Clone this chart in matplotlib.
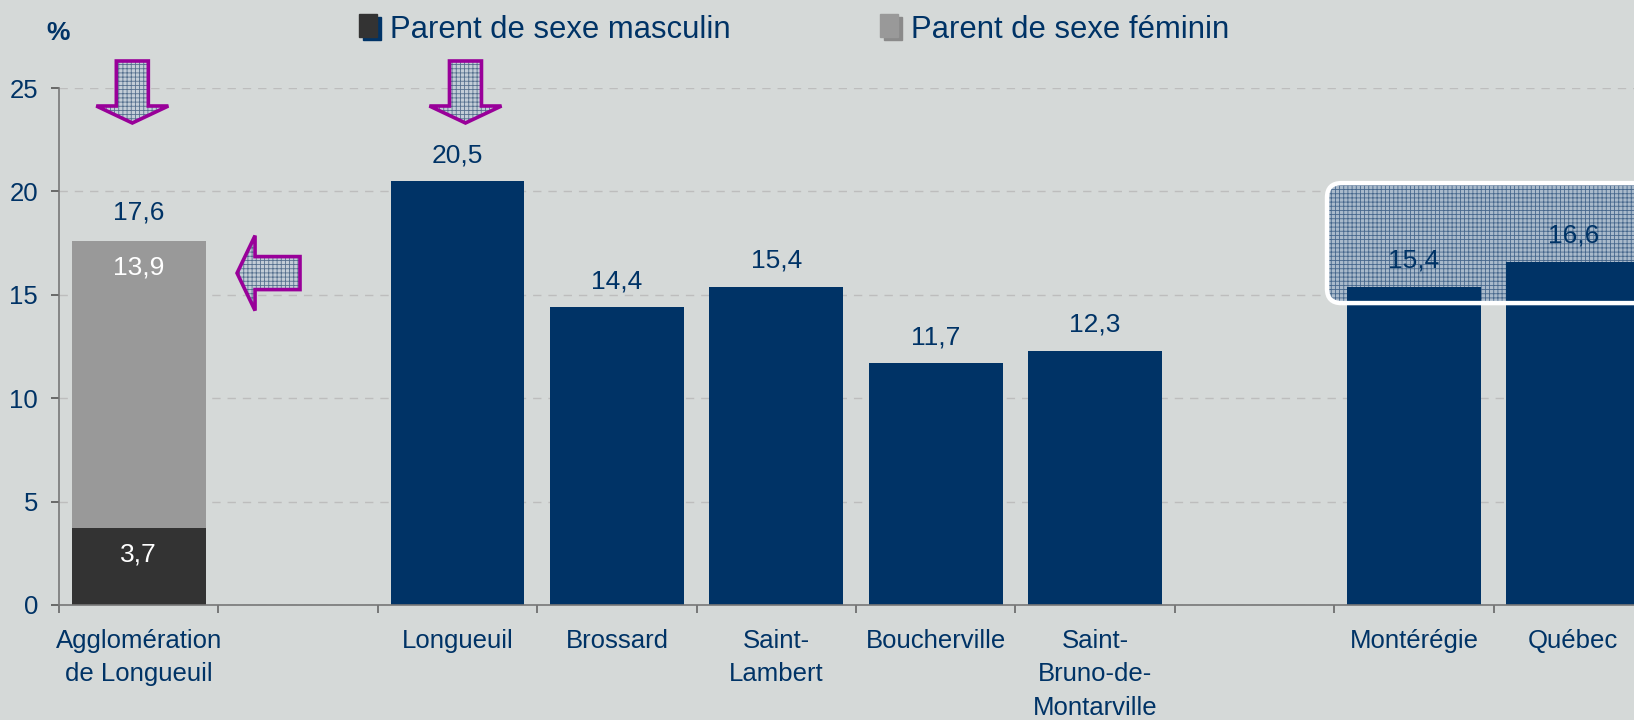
"""Bar chart: share of single-parent families by sex of parent, Longueuil area."""

import matplotlib
matplotlib.use("Agg")
import matplotlib.pyplot as plt
from matplotlib.patches import FancyArrow, FancyBboxPatch, Rectangle

# --- data -----------------------------------------------------------------
labels = ["Agglomération\nde Longueuil", "", "Longueuil", "Brossard",
          "Saint-\nLambert", "Boucherville", "Saint-\nBruno-de-\nMontarville",
          "", "Montérégie", "Québec"]
agglo_pos = 0
agglo_male = 3.7
agglo_female = 13.9
agglo_total = 17.6
city_pos = [2, 3, 4, 5, 6, 8, 9]
city_values = [20.5, 14.4, 15.4, 11.7, 12.3, 15.4, 16.6]
yticks = [0, 5, 10, 15, 20, 25]
legend_labels = ["Parent de sexe masculin", "Parent de sexe féminin"]

BG = "#D5D9D8"
NAVY = "#003366"
DARK = "#333333"
LIGHT = "#999999"
PURPLE = "#990099"

plt.rcParams["font.family"] = ["Liberation Sans", "DejaVu Sans"]
plt.rcParams["hatch.linewidth"] = 0.6

W, H = 1634, 720
fig = plt.figure(figsize=(W / 100, H / 100), dpi=100, facecolor=BG)
ax = fig.add_axes([59 / W, 1 - 605 / H, (1653 - 59) / W, (605 - 88) / H])
ax.set_facecolor(BG)
ax.set_xlim(-0.5, len(labels) - 0.5)
ax.set_ylim(0, 25)

# pixels per data unit, for sizing decorations
px_x = (1653 - 59) / len(labels)
px_y = (605 - 88) / 25


def fmt(v):
    return f"{v:.1f}".replace(".", ",")


bw = 0.84
ax.bar(agglo_pos, agglo_male, width=bw, color=DARK, zorder=2)
ax.bar(agglo_pos, agglo_female, bottom=agglo_male, width=bw, color=LIGHT, zorder=2)
ax.bar(city_pos, city_values, width=bw, color=NAVY, zorder=2)

lab_kw = dict(textcoords="offset points", ha="center", fontsize=19, zorder=5)
ax.annotate(fmt(agglo_total), (agglo_pos, agglo_total), xytext=(0, 12),
            va="bottom", color=NAVY, **lab_kw)
ax.annotate(fmt(agglo_female), (agglo_pos, agglo_total), xytext=(0, -19),
            va="center", color="white", **lab_kw)
ax.annotate(fmt(agglo_male), (agglo_pos, agglo_male), xytext=(0, -19),
            va="center", color="white", **lab_kw)
for x, v in zip(city_pos, city_values):
    ax.annotate(fmt(v), (x, v), xytext=(0, 10), va="bottom", color=NAVY, **lab_kw)

# axes styling
ax.set_yticks(yticks)
ax.set_yticklabels([str(t) for t in yticks])
ax.yaxis.grid(True, color="#BDBDBD", linestyle=(0, (6, 5)), linewidth=1, zorder=0)
ax.set_axisbelow(True)
ax.set_xticks(range(len(labels)))
ax.set_xticklabels(labels, linespacing=1.5)
ax.set_xticks([i - 0.5 for i in range(len(labels) + 1)], minor=True)
ax.tick_params(axis="x", which="major", length=0, pad=17, labelsize=18.5,
               labelcolor=NAVY)
ax.tick_params(axis="x", which="minor", length=6, width=1.2, color="#666666")
ax.tick_params(axis="y", length=6, width=1.2, color="#555555", pad=9,
               labelsize=18.5, labelcolor=NAVY)
for s in ("top", "right"):
    ax.spines[s].set_visible(False)
for s in ("left", "bottom"):
    ax.spines[s].set_color("#777777")
    ax.spines[s].set_linewidth(1.2)

fig.text(58 / W, 1 - 33 / H, "%", fontsize=19, fontweight="bold", color=NAVY,
         ha="center", va="center")


# --- hatched arrows ------------------------------------------------------
def arrow(x, y, dx, dy, width, head_width, head_length):
    kw = dict(length_includes_head=True, width=width, head_width=head_width,
              head_length=head_length, clip_on=False)
    ax.add_patch(FancyArrow(x, y, dx, dy, facecolor="#C3CDD7", edgecolor="#56708E",
                            hatch="++++", linewidth=0, zorder=6, **kw))
    ax.add_patch(FancyArrow(x, y, dx, dy, fill=False, edgecolor=PURPLE,
                            linewidth=2.6, joinstyle="miter", zorder=7, **kw))


top_y, tip_y = (605 - 61) / px_y, (605 - 123) / px_y
for xc in (agglo_pos - 0.04, city_pos[0] + 0.05):
    arrow(xc, top_y, 0, tip_y - top_y, 32 / px_x, 72 / px_x, 17 / px_y)

arrow(agglo_pos + 1.012, agglo_total - 1.55, -0.395, 0,
      33 / px_y, 75 / px_y, 18 / px_x)

# --- highlight box around Montérégie / Québec -----------------------------
bx0, bx1 = city_pos[-2] - 0.545, city_pos[-1] + 0.6
by0, by1 = city_values[-2] - 0.8, 20.4
box_kw = dict(boxstyle="round,pad=0,rounding_size=0.09",
              mutation_aspect=px_x / px_y, clip_on=False)
ax.add_patch(FancyBboxPatch((bx0, by0), bx1 - bx0, by1 - by0,
                            facecolor="#A9BACB", edgecolor="#46678C",
                            hatch="++++", linewidth=0, zorder=1.5, **box_kw))
ax.add_patch(FancyBboxPatch((bx0, by0), bx1 - bx0, by1 - by0, fill=False,
                            edgecolor="white", linewidth=3.2, zorder=4, **box_kw))

# --- legend --------------------------------------------------------------
leg = [(359, 390, DARK, NAVY, legend_labels[0]),
       (880, 911, LIGHT, "#8A8A8A", legend_labels[1])]
for x0, xt, face, shadow, text in leg:
    fig.patches.append(Rectangle(((x0 + 4) / W, 1 - 40 / H), 18 / W, 23 / H,
                                 transform=fig.transFigure, color=shadow))
    fig.patches.append(Rectangle((x0 / W, 1 - 37 / H), 18 / W, 23 / H,
                                 transform=fig.transFigure, color=face))
    fig.text(xt / W, 1 - 38 / H, text, fontsize=22.3, color=NAVY,
             ha="left", va="baseline")

fig.savefig("out.png", dpi=100, facecolor=BG)
